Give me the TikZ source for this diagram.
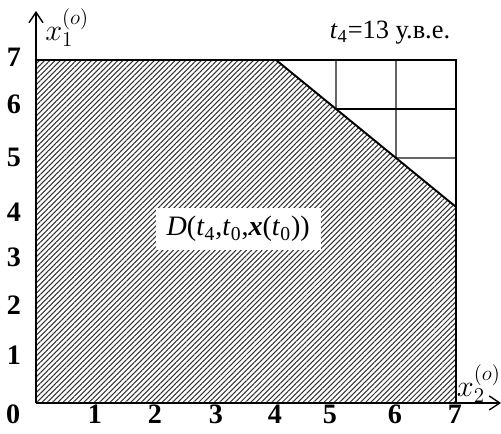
\documentclass[tikz,border=0pt]{standalone}
\usepackage{fontspec}
\setmainfont{Liberation Serif}
\usetikzlibrary{arrows.meta, patterns.meta}

\begin{document}
\begin{tikzpicture}[x=1.2cm, y=0.98cm,
        axis/.style={line width=0.8pt, -{Straight Barb[length=6pt, width=8pt]}},
        border/.style={line width=1.1pt},
        hatch/.style={pattern={Lines[angle=45, distance=2.1pt, line width=0.6pt]}, pattern color=black!80},
        gridline/.style={line width=0.8pt, black!60},
        tick/.style={font=\fontsize{16}{18}\selectfont\bfseries, inner sep=1pt},
        axlabel/.style={font=\fontsize{17}{19}\selectfont, inner sep=1pt}
    ]
    \useasboundingbox (-0.6,-0.633) rectangle (7.75,8.224);

    \coordinate (O) at (0,0);
    \coordinate (ytop) at (0,8);
    \coordinate (xend) at (7.75,0);
    \coordinate (a) at (0,7);
    \coordinate (b) at (4,7);
    \coordinate (c) at (7,4);
    \coordinate (d) at (7,0);

    % region D
    \fill[hatch] (O) -- (a) -- (b) -- (c) -- (d) -- cycle;

    % grid above the boundary
    \coordinate (g56) at (5,6);
    \coordinate (g57) at (5,7);
    \coordinate (g65) at (6,5);
    \coordinate (g66) at (6,6);
    \coordinate (g67) at (6,7);
    \coordinate (g75) at (7,5);
    \coordinate (g76) at (7,6);
    \coordinate (g77) at (7,7);
    \draw[gridline] (g56) -- (g57);
    \draw[gridline] (g65) -- (g67);
    \draw[border] (g56) -- (g76);
    \draw[gridline] (g65) -- (g75);
    \draw[border] (b) -- (g77) -- (c);

    \draw[border] (a) -- (b) -- (c) -- (d);

    % axes
    \draw[axis] (O) -- (ytop);
    \draw[axis] (O) -- (xend);

    \node[axlabel] (x1) at (0.52,7.66) {$x_1^{(o)}$};
    \node[axlabel] (x2) at (7.38,0.4) {$x_2^{(o)}$};

    \node[font=\fontsize{15}{17}\selectfont] (time) at (5.9,7.55) {\textit{t}\textsubscript{4}=13 у.в.е.};
    \node[fill=white, font=\fontsize{16}{18}\selectfont, minimum width=3.3cm, minimum height=0.84cm] (dlabel) at (3.37,3.55)
        {\textit{D}(\textit{t}\textsubscript{4},\textit{t}\textsubscript{0},\textbf{\textit{x}}(\textit{t}\textsubscript{0}))};

    % tick labels
    \node[tick] (t0) at (-0.38,-0.24) {0};
    \node[tick] (tx1) at (0.98,-0.23) {1};
    \node[tick] (tx2) at (1.98,-0.23) {2};
    \node[tick] (tx3) at (3.0,-0.23) {3};
    \node[tick] (tx4) at (3.98,-0.23) {4};
    \node[tick] (tx5) at (4.9,-0.23) {5};
    \node[tick] (tx6) at (5.98,-0.23) {6};
    \node[tick] (tx7) at (6.98,-0.23) {7};
    \node[tick] (ty1) at (-0.37,0.98) {1};
    \node[tick] (ty2) at (-0.37,2.0) {2};
    \node[tick] (ty3) at (-0.37,2.98) {3};
    \node[tick] (ty4) at (-0.37,3.9) {4};
    \node[tick] (ty5) at (-0.37,5.02) {5};
    \node[tick] (ty6) at (-0.37,6.1) {6};
    \node[tick] (ty7) at (-0.37,7.06) {7};
\end{tikzpicture}
\end{document}
